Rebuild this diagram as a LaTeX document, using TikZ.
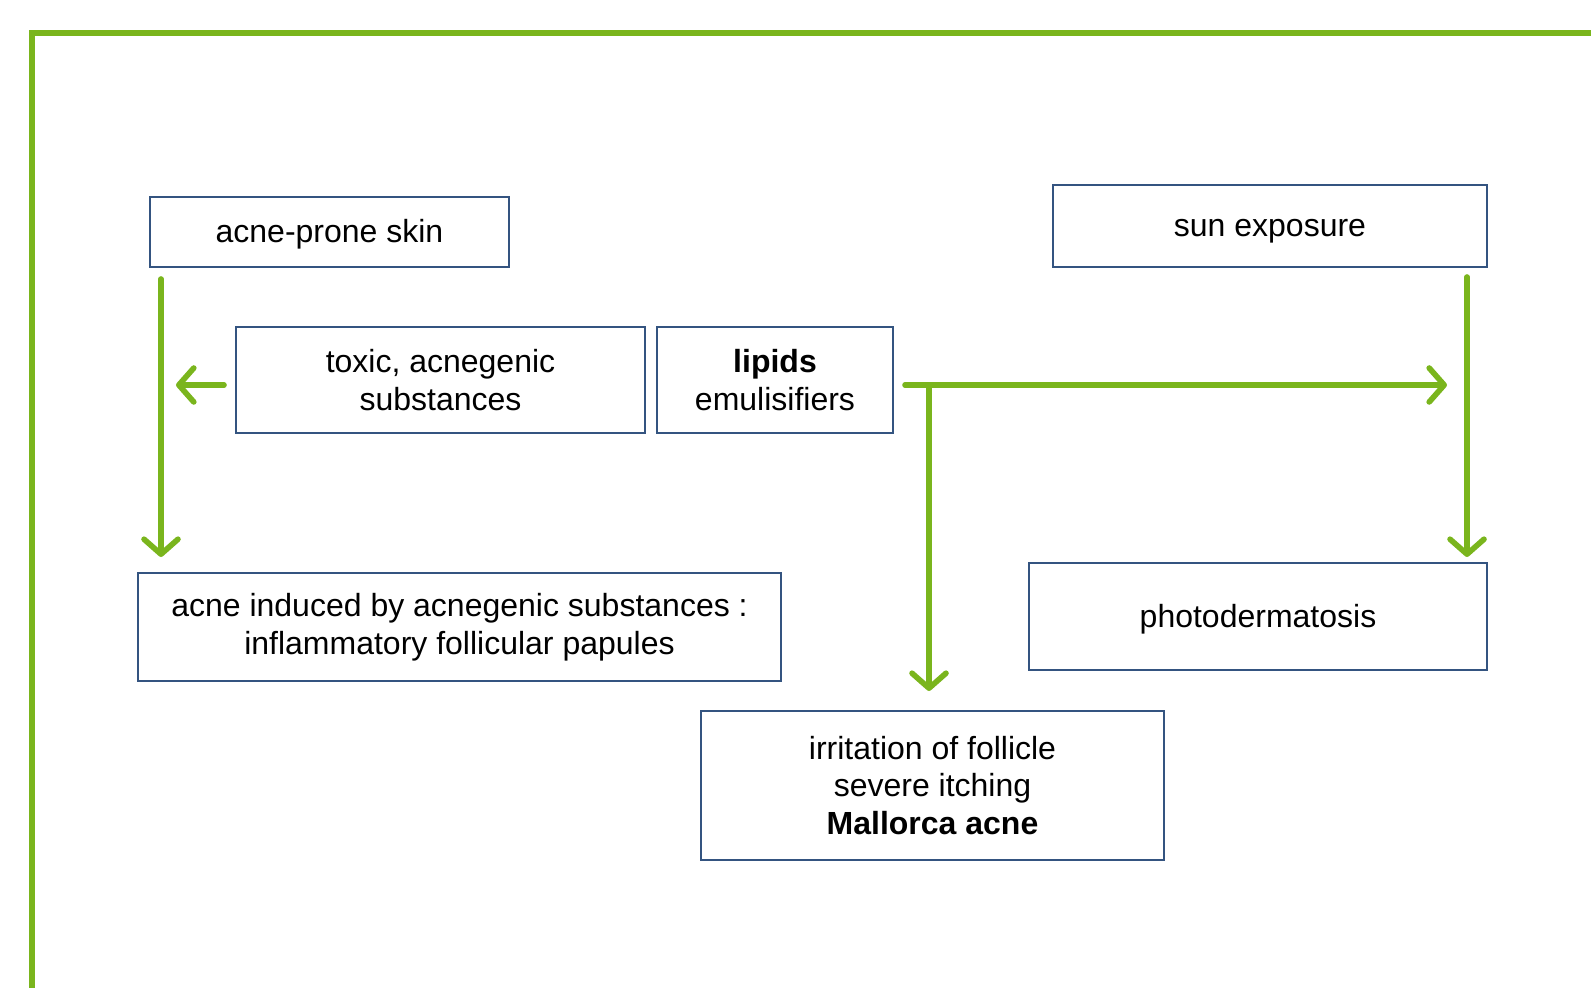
\documentclass[tikz,border=0pt]{standalone}
\usepackage{fontspec}
\setmainfont{Liberation Sans}
\usepackage{tikz}
\usetikzlibrary{arrows.meta, calc}

\definecolor{framegreen}{RGB}{122,181,29}
\definecolor{boxblue}{RGB}{52,84,128}

\begin{document}
\begin{tikzpicture}[x=0.5pt, y=-0.5pt,
    box/.style={draw=boxblue, line width=1pt, fill=white, inner sep=0pt,
                align=center, font=\fontsize{16}{18.75}\selectfont},
    oneline/.style={text height=12.5pt, text depth=1.5pt},
    flow/.style={draw=framegreen, line width=2.8pt, line cap=round,
                 -{Straight Barb[length=7.5pt, width=17pt, line cap=round, line join=round]}}]
   \useasboundingbox (0,0) rectangle (1591,988);
   % outer frame
   \draw[framegreen, line width=3pt] (32,988) -- (32,33) -- (1591,33);

   \node[box, oneline, minimum width=179.5pt, minimum height=35pt] (skin) at (329.5,232) {acne-prone skin};
   \node[box, oneline, minimum width=217pt, minimum height=41pt] (sun) at (1270,226) {sun exposure};
   \node[box, minimum width=204.5pt, minimum height=53pt] (toxic) at (440.5,380) {toxic, acnegenic\\substances};
   \node[box, minimum width=118pt, minimum height=53pt] (lipids) at (775,380) {\textbf{lipids}\\emulisifiers};
   \node[box, minimum width=321.5pt, minimum height=54pt] (induced) at (459.5,627) {acne induced by acnegenic substances :\\inflammatory follicular papules};
   \node[box, oneline, minimum width=229pt, minimum height=53.5pt] (photo) at (1258,616.5) {photodermatosis};
   \node[box, minimum width=231.5pt, minimum height=74.5pt] (irritation) at (932.5,785.5) {irritation of follicle\\severe itching\\\textbf{Mallorca acne}};

   \coordinate (split) at ($(lipids.east)+(35,5)$);

   % From skin
   \draw[flow] ($(skin.south west)+(12,11)$) -- ($(skin.south west |- induced.north)+(12,-15)$);
   % From toxic
   \draw[flow] ($(toxic.west)+(-11,5)$) -- ($(toxic.west)+(-59,5)$);
   % From lipids
   \draw[flow] ($(lipids.east)+(11,5)$) -- ($(split -| sun.east)+(-41,0)$);
   \draw[flow] (split) -- ($(split |- irritation.north)+(0,-19)$);
   % From sun
   \draw[flow] ($(sun.south east)+(-21,9)$) -- ($(sun.south east |- photo.north)+(-21,-5)$);
\end{tikzpicture}
\end{document}
